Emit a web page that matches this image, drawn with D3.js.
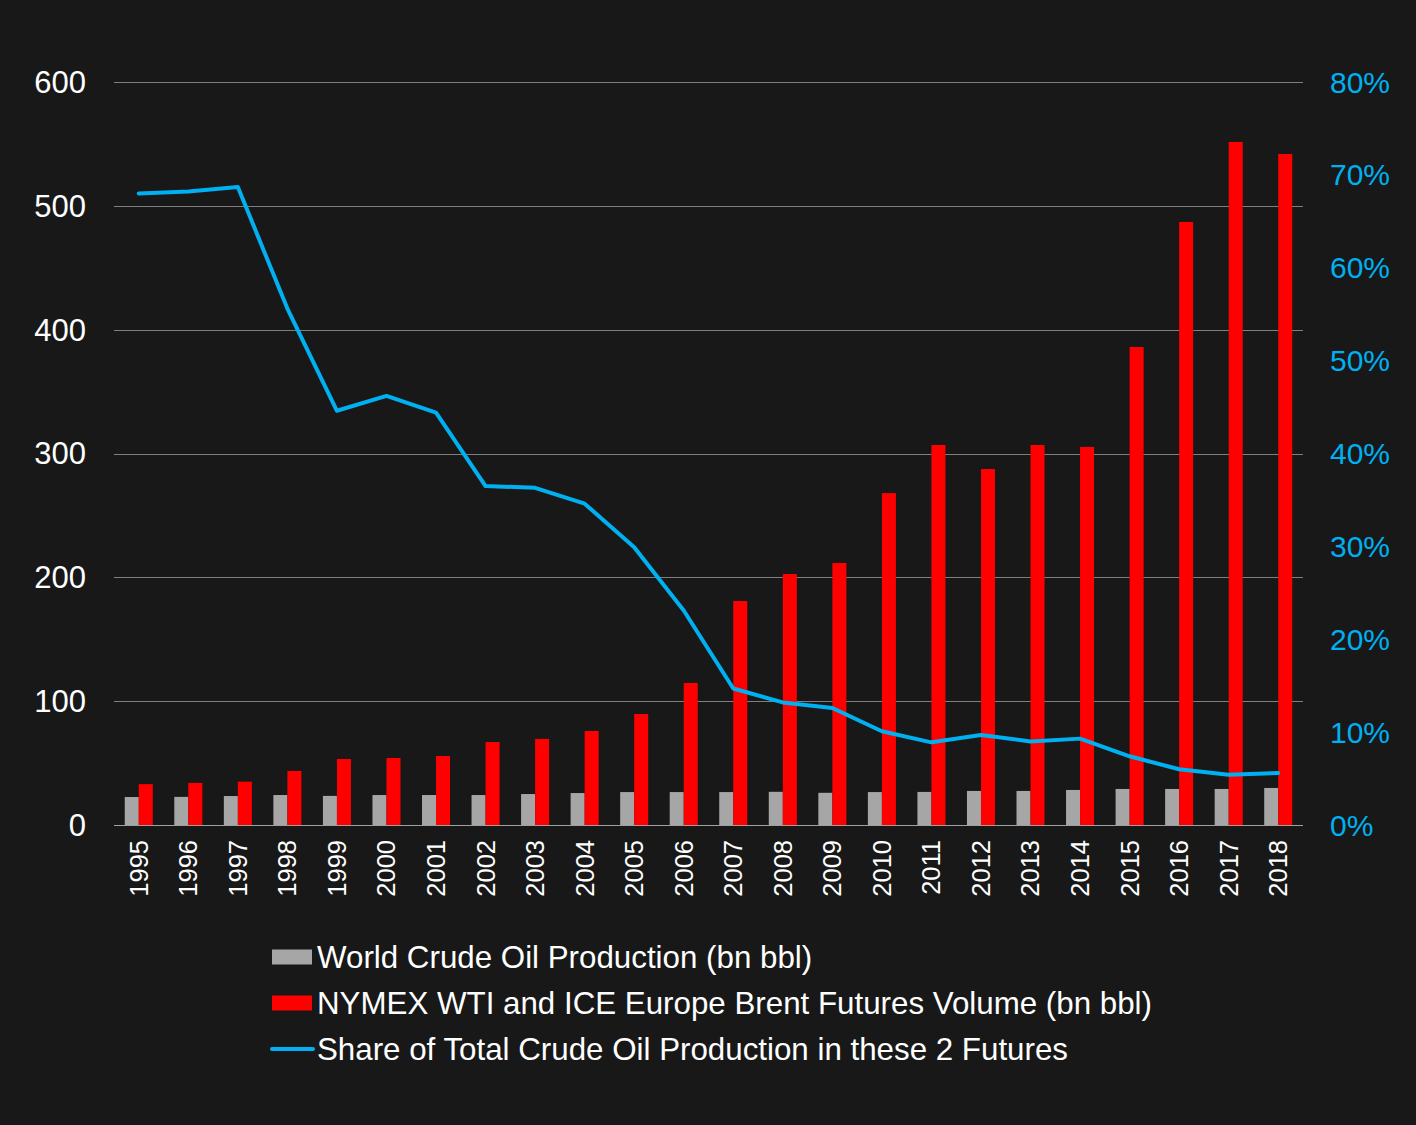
<!DOCTYPE html>
<html>
<head>
<meta charset="utf-8">
<script src="https://cdn.jsdelivr.net/npm/d3@7"></script>
<style>
  html, body { margin: 0; padding: 0; background: #181818; }
  svg { display: block; font-family: Arial, "Liberation Sans", sans-serif; }
</style>
</head>
<body>
<svg id="chart"></svg>
<script>
// ### Data ###
var years = ['1995','1996','1997','1998','1999','2000','2001','2002','2003','2004','2005','2006',
             '2007','2008','2009','2010','2011','2012','2013','2014','2015','2016','2017','2018'];
// World crude oil production (bn bbl)
var production = [22.6, 22.7, 23.4, 24.2, 23.5, 24.2, 24.2, 24.2, 25.0, 25.8, 26.6, 26.6,
                  26.6, 26.8, 26.0, 26.6, 26.7, 27.5, 27.5, 28.3, 29.1, 29.1, 29.1, 29.9];
// NYMEX WTI + ICE Brent futures volume (bn bbl)
var futures = [33, 34, 35, 43.6, 53.3, 54.1, 55.7, 67, 69.5, 75.9, 89.6, 114.7,
               180.9, 202.7, 211.6, 268, 306.9, 287.5, 306.9, 305.3, 386, 487, 551.6, 541.9];
// Share of production traded in these 2 futures
var share = [0.680, 0.682, 0.687, 0.556, 0.446, 0.462, 0.444, 0.365, 0.363, 0.346, 0.299, 0.231,
             0.147, 0.132, 0.126, 0.101, 0.089, 0.097, 0.090, 0.093, 0.074, 0.060, 0.054, 0.056];
var leftTicks = [0, 100, 200, 300, 400, 500, 600];
var rightTicks = [0, 0.1, 0.2, 0.3, 0.4, 0.5, 0.6, 0.7, 0.8];
var legendItems = ['World Crude Oil Production (bn bbl)',
                   'NYMEX WTI and ICE Europe Brent Futures Volume (bn bbl)',
                   'Share of Total Crude Oil Production in these 2 Futures'];

// ### Setting up canvas ###
var width = 1416, height = 1125;
var plot = {left: 114, right: 1303, top: 82, bottom: 825};

var svg = d3.select('#chart')
            .attr('width', width)
            .attr('height', height);
svg.append('rect').attr('width', width).attr('height', height).attr('fill', '#181818');

// ### Scales ###
var xScale = d3.scaleBand()
               .domain(years)
               .range([plot.left, plot.right])
               .paddingInner(0.434)
               .paddingOuter(0.217);
var xSub = d3.scaleBand()
             .domain(['prod', 'fut'])
             .range([0, xScale.bandwidth()]);
var yLeft = d3.scaleLinear().domain([0, 600]).range([plot.bottom, plot.top]);
var yRight = d3.scaleLinear().domain([0, 0.8]).range([plot.bottom, plot.top]);

// ### Gridlines ###
svg.append('g')
   .selectAll('line')
   .data(leftTicks.slice(1))
   .enter()
   .append('line')
   .attr('x1', plot.left).attr('x2', plot.right)
   .attr('y1', d => Math.round(yLeft(d)) + 0.5)
   .attr('y2', d => Math.round(yLeft(d)) + 0.5)
   .attr('stroke', '#7f7f7f')
   .attr('stroke-width', 1);

// ### Bars ###
var groups = svg.append('g')
   .selectAll('g')
   .data(years)
   .enter()
   .append('g')
   .attr('transform', d => `translate(${xScale(d)},0)`);

groups.append('rect')
   .attr('x', xSub('prod'))
   .attr('width', xSub.bandwidth())
   .attr('y', (d, i) => yLeft(production[i]))
   .attr('height', (d, i) => yLeft(0) - yLeft(production[i]))
   .attr('fill', '#a6a6a6');

groups.append('rect')
   .attr('x', xSub('fut'))
   .attr('width', xSub.bandwidth())
   .attr('y', (d, i) => yLeft(futures[i]))
   .attr('height', (d, i) => yLeft(0) - yLeft(futures[i]))
   .attr('fill', '#ff0000');

// baseline
svg.append('line')
   .attr('x1', plot.left).attr('x2', plot.right)
   .attr('y1', plot.bottom + 0.5).attr('y2', plot.bottom + 0.5)
   .attr('stroke', '#a0a0a0')
   .attr('stroke-width', 1);

// ### Share line ###
var line = d3.line()
   .x((d, i) => xScale(years[i]) + xScale.bandwidth() / 2)
   .y(d => yRight(d));

svg.append('path')
   .datum(share)
   .attr('d', line)
   .attr('fill', 'none')
   .attr('stroke', '#00b0f0')
   .attr('stroke-width', 4)
   .attr('stroke-linecap', 'round')
   .attr('stroke-linejoin', 'round');

// ### Axis labels ###
svg.append('g')
   .selectAll('text')
   .data(leftTicks)
   .enter()
   .append('text')
   .attr('x', 86)
   .attr('y', d => yLeft(d))
   .attr('dy', '0.35em')
   .attr('text-anchor', 'end')
   .attr('font-size', 31)
   .attr('fill', '#ffffff')
   .text(d => d);

svg.append('g')
   .selectAll('text')
   .data(rightTicks)
   .enter()
   .append('text')
   .attr('x', 1330)
   .attr('y', d => yRight(d))
   .attr('dy', '0.35em')
   .attr('text-anchor', 'start')
   .attr('font-size', 30)
   .attr('fill', '#00b0f0')
   .text(d => d3.format('.0%')(d));

svg.append('g')
   .selectAll('text')
   .data(years)
   .enter()
   .append('text')
   .attr('transform', d => `translate(${xScale(d) + xScale.bandwidth() / 2},840) rotate(-90)`)
   .attr('dy', '0.35em')
   .attr('text-anchor', 'end')
   .attr('font-size', 25.5)
   .attr('fill', '#ffffff')
   .text(d => d);

// ### Legend ###
var legend = svg.append('g');
var legendY = [957, 1003, 1049];

legend.append('rect')
   .attr('x', 272).attr('y', legendY[0] - 7.5)
   .attr('width', 40).attr('height', 15)
   .attr('fill', '#a6a6a6');
legend.append('rect')
   .attr('x', 272).attr('y', legendY[1] - 7.5)
   .attr('width', 40).attr('height', 15)
   .attr('fill', '#ff0000');
legend.append('line')
   .attr('x1', 272).attr('x2', 313)
   .attr('y1', legendY[2]).attr('y2', legendY[2])
   .attr('stroke', '#00b0f0')
   .attr('stroke-width', 4)
   .attr('stroke-linecap', 'round');

legend.selectAll('text')
   .data(legendItems)
   .enter()
   .append('text')
   .attr('x', 317)
   .attr('y', (d, i) => legendY[i])
   .attr('dy', '0.35em')
   .attr('font-size', 31.3)
   .attr('fill', '#ffffff')
   .text(d => d);
</script>
</body>
</html>
